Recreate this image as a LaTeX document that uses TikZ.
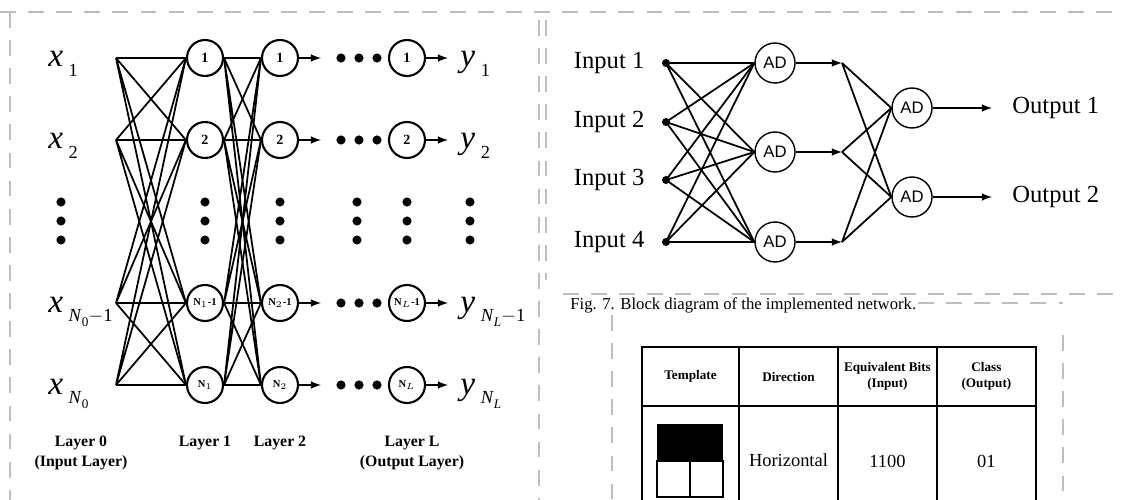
\documentclass[tikz,border=0pt]{standalone}
\usepackage{amsmath}
\usepackage{fontspec}
\setmainfont{Liberation Serif}
\newfontfamily\adfont{Liberation Sans}
\usetikzlibrary{arrows,positioning,calc}
\definecolor{frameGray}{RGB}{190,190,190}
\newcommand{\varsub}[2]{\textit{#1}\,\raisebox{-0.27em}{\fontsize{10.5}{11}\selectfont #2}}
\newcommand{\subsub}[1]{\raisebox{-0.3em}{\fontsize{7.5}{8}\selectfont #1}}

\begin{document}
\begin{tikzpicture}[x=0.02cm, y=-0.02cm,
            neuron/.style={circle, draw, very thick, minimum size=0.72cm, inner sep=0pt, font=\fontsize{8}{9}\selectfont\bfseries},
            adnode/.style={circle, draw, thick, minimum size=0.8cm, inner sep=0pt, font=\adfont\fontsize{9.5}{10}\selectfont},
            link/.style={line width=1pt},
            arrow/.style={-latex, line width=1pt},
            inputdot/.style={circle, fill, inner sep=0pt, minimum size=0.16cm},
            varlabel/.style={anchor=base west, inner sep=0pt, font=\fontsize{19}{19}\selectfont},
            iolabel/.style={inner sep=0pt, font=\fontsize{14}{16}\selectfont},
            layerlabel/.style={align=center, font=\fontsize{9}{11}\selectfont\bfseries},
            headcell/.style={draw, thick, outer sep=0pt, inner sep=0pt, minimum height=1.18cm, align=center, font=\fontsize{7.5}{9}\selectfont\bfseries},
            bodytext/.style={font=\fontsize{10.5}{12}\selectfont},
            frame/.style={frameGray, thick, dash pattern=on 9pt off 7pt}
        ]
            \useasboundingbox (0,0) rectangle (1122,500);
            
            % scan borders
            \draw[frame] (0,12) -- (1122,12);
            \draw[frame] (10,12) -- (10,500);
            \draw[frame] (539,20) -- (539,500);
            \draw[frame] (546,20) -- (546,280);
            \draw[frame] (563,294) -- (1122,294);
            \draw[frame] (918,303) -- (1063,303);
            \draw[frame] (612,315) -- (612,500);
            \draw[frame] (1063,335) -- (1063,500);
            
            % general network
            \coordinate (in1) at (116,58);
            \coordinate (in2) at (116,140);
            \coordinate (in3) at (116,303);
            \coordinate (in4) at (116,385);
            \node[varlabel] (x1) at (48,67) {\varsub{x}{1}};
            \node[varlabel] (x2) at (48,149) {\varsub{x}{2}};
            \node[varlabel] (x3) at (48,312) {\varsub{x}{\textit{N}\subsub{0}$-$1}};
            \node[varlabel] (x4) at (48,394) {\varsub{x}{\textit{N}\subsub{0}}};
            
            \node[neuron] (h1a) at (205,58) {1};
            \node[neuron] (h1b) at (205,140) {2};
            \node[neuron] (h1c) at (205,303) {\fontsize{6}{6}\selectfont N$_1$-1};
            \node[neuron] (h1d) at (205,385) {\fontsize{6}{6}\selectfont N$_1$};
            \node[neuron] (h2a) at (280,58) {1};
            \node[neuron] (h2b) at (280,140) {2};
            \node[neuron] (h2c) at (280,303) {\fontsize{6}{6}\selectfont N$_2$-1};
            \node[neuron] (h2d) at (280,385) {\fontsize{6}{6}\selectfont N$_2$};
            \node[neuron] (hLa) at (407,58) {1};
            \node[neuron] (hLb) at (407,140) {2};
            \node[neuron] (hLc) at (407,303) {\fontsize{6}{6}\selectfont N$_L$-1};
            \node[neuron] (hLd) at (407,385) {\fontsize{6}{6}\selectfont N$_L$};
            
            \draw[link] (in1) -- (h1a.west) (in1) -- (h1b.west) (in1) -- (h1c.west) (in1) -- (h1d.west);
            \draw[link] (in2) -- (h1a.west) (in2) -- (h1b.west) (in2) -- (h1c.west) (in2) -- (h1d.west);
            \draw[link] (in3) -- (h1a.west) (in3) -- (h1b.west) (in3) -- (h1c.west) (in3) -- (h1d.west);
            \draw[link] (in4) -- (h1a.west) (in4) -- (h1b.west) (in4) -- (h1c.west) (in4) -- (h1d.west);
            \draw[link] (h1a.east) -- (h2a.west) (h1a.east) -- (h2b.west) (h1a.east) -- (h2c.west) (h1a.east) -- (h2d.west);
            \draw[link] (h1b.east) -- (h2a.west) (h1b.east) -- (h2b.west) (h1b.east) -- (h2c.west) (h1b.east) -- (h2d.west);
            \draw[link] (h1c.east) -- (h2a.west) (h1c.east) -- (h2b.west) (h1c.east) -- (h2c.west) (h1c.east) -- (h2d.west);
            \draw[link] (h1d.east) -- (h2a.west) (h1d.east) -- (h2b.west) (h1d.east) -- (h2c.west) (h1d.east) -- (h2d.west);
            
            \coordinate (t2a) at (321,58);
            \coordinate (t2b) at (321,140);
            \coordinate (t2c) at (321,303);
            \coordinate (t2d) at (321,385);
            \draw[arrow] (h2a) -- (t2a);
            \draw[arrow] (h2b) -- (t2b);
            \draw[arrow] (h2c) -- (t2c);
            \draw[arrow] (h2d) -- (t2d);
            
            \coordinate (tLa) at (448,58);
            \coordinate (tLb) at (448,140);
            \coordinate (tLc) at (448,303);
            \coordinate (tLd) at (448,385);
            \draw[arrow] (hLa) -- (tLa);
            \draw[arrow] (hLb) -- (tLb);
            \draw[arrow] (hLc) -- (tLc);
            \draw[arrow] (hLd) -- (tLd);
            \node[varlabel] (y1) at (460,67) {\varsub{y}{1}};
            \node[varlabel] (y2) at (460,149) {\varsub{y}{2}};
            \node[varlabel] (y3) at (460,312) {\varsub{y}{\textit{N}\subsub{\textit{L}}$-$1}};
            \node[varlabel] (y4) at (460,394) {\varsub{y}{\textit{N}\subsub{\textit{L}}}};
            
            % ellipsis dots
            \fill (341,58) circle (2.6pt) (359,58) circle (2.6pt) (377,58) circle (2.6pt);
            \fill (341,140) circle (2.6pt) (359,140) circle (2.6pt) (377,140) circle (2.6pt);
            \fill (341,303) circle (2.6pt) (359,303) circle (2.6pt) (377,303) circle (2.6pt);
            \fill (341,385) circle (2.6pt) (359,385) circle (2.6pt) (377,385) circle (2.6pt);
            \fill (61,202) circle (2.6pt) (61,221) circle (2.6pt) (61,240) circle (2.6pt);
            \fill (205,202) circle (2.6pt) (205,221) circle (2.6pt) (205,240) circle (2.6pt);
            \fill (280,202) circle (2.6pt) (280,221) circle (2.6pt) (280,240) circle (2.6pt);
            \fill (357,202) circle (2.6pt) (357,221) circle (2.6pt) (357,240) circle (2.6pt);
            \fill (407,202) circle (2.6pt) (407,221) circle (2.6pt) (407,240) circle (2.6pt);
            \fill (470,202) circle (2.6pt) (470,221) circle (2.6pt) (470,240) circle (2.6pt);
            
            \node[layerlabel] (lay0) at (81,453) {Layer 0\\(Input Layer)};
            \node[layerlabel] (lay1) at (205,443) {Layer 1};
            \node[layerlabel] (lay2) at (280,443) {Layer 2};
            \node[layerlabel] (layL) at (412,453) {Layer L\\(Output Layer)};
            
            % implemented network
            \node[inputdot] (p1) at (666,63) {};
            \node[inputdot] (p2) at (666,122) {};
            \node[inputdot] (p3) at (666,180) {};
            \node[inputdot] (p4) at (666,242) {};
            \node[iolabel, left=0.34cm of p1] (inp1) {Input 1};
            \node[iolabel, left=0.34cm of p2] (inp2) {Input 2};
            \node[iolabel, left=0.34cm of p3] (inp3) {Input 3};
            \node[iolabel, left=0.34cm of p4] (inp4) {Input 4};
            
            \node[adnode] (a1) at (775,63) {AD};
            \node[adnode] (a2) at (775,152) {AD};
            \node[adnode] (a3) at (775,242) {AD};
            \node[adnode] (b1) at (912,108) {AD};
            \node[adnode] (b2) at (912,197) {AD};
            
            \draw[link] (p1.center) -- (a1.west) (p1.center) -- (a2.west) (p1.center) -- (a3.west);
            \draw[link] (p2.center) -- (a1.west) (p2.center) -- (a2.west) (p2.center) -- (a3.west);
            \draw[link] (p3.center) -- (a1.west) (p3.center) -- (a2.west) (p3.center) -- (a3.west);
            \draw[link] (p4.center) -- (a1.west) (p4.center) -- (a2.west) (p4.center) -- (a3.west);
            
            \coordinate (j1) at (842,63);
            \coordinate (j2) at (842,152);
            \coordinate (j3) at (842,242);
            \draw[arrow] (a1) -- (j1);
            \draw[arrow] (a2) -- (j2);
            \draw[arrow] (a3) -- (j3);
            \draw[link] (j1) -- (b1.west) (j1) -- (b2.west);
            \draw[link] (j2) -- (b1.west) (j2) -- (b2.west);
            \draw[link] (j3) -- (b1.west) (j3) -- (b2.west);
            
            \coordinate (o1) at (992,108);
            \coordinate (o2) at (992,197);
            \draw[arrow] (b1) -- (o1);
            \draw[arrow] (b2) -- (o2);
            \node[iolabel, right=0.4cm of o1] (out1) {Output 1};
            \node[iolabel, right=0.4cm of o2] (out2) {Output 2};
            
            \node[anchor=west, inner sep=0pt, font=\fontsize{9.5}{11}\selectfont] (cap) at (570,305) {Fig. 7. Block diagram of the implemented network.};
            
            % template table
            \coordinate (tbot) at (0,500);
            \node[headcell, minimum width=1.94cm, anchor=north west] (hTemp) at (642,347) {Template};
            \node[headcell, minimum width=1.98cm, right=0pt of hTemp] (hDir) {Direction};
            \node[headcell, minimum width=1.98cm, right=0pt of hDir] (hBits) {Equivalent Bits\\(Input)};
            \node[headcell, minimum width=1.98cm, right=0pt of hBits] (hClass) {Class\\(Output)};
            \draw[thick] (hTemp.south west) -- (hTemp.south west |- tbot);
            \draw[thick] (hDir.south west) -- (hDir.south west |- tbot);
            \draw[thick] (hBits.south west) -- (hBits.south west |- tbot);
            \draw[thick] (hClass.south west) -- (hClass.south west |- tbot);
            \draw[thick] (hClass.south east) -- (hClass.south east |- tbot);
            
            \fill (657,424) rectangle (723,461);
            \draw[semithick] (657,461) rectangle (723,497);
            \draw[semithick] (690,461) -- (690,497);
            \node[bodytext] (dirH) at (hDir.south |- 0,460) {Horizontal};
            \node[bodytext] (bitsH) at (hBits.south |- 0,461) {1100};
            \node[bodytext] (classH) at (hClass.south |- 0,461) {01};
        \end{tikzpicture}
\end{document}
